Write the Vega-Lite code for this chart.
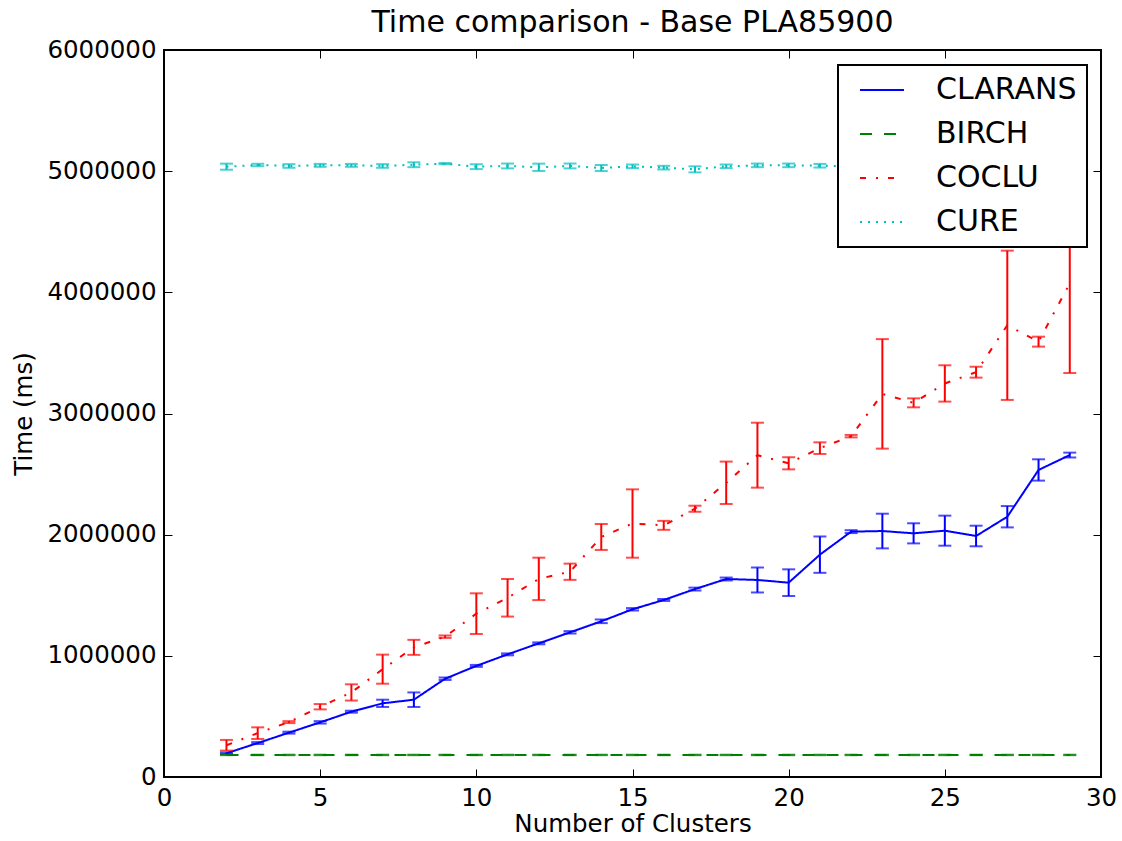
{
  "$schema": "https://vega.github.io/schema/vega-lite/v6.json",
  "width": 937,
  "height": 727,
  "autosize": {"type": "none"},
  "padding": {"left": 164, "top": 50, "right": 21, "bottom": 64},
  "background": "white",
  "config": {
    "font": "DejaVu Sans",
    "view": {"stroke": "black", "strokeWidth": 2}
  },
  "title": {
    "text": "Time comparison - Base PLA85900",
    "fontSize": 30,
    "fontWeight": "normal",
    "color": "black",
    "anchor": "middle",
    "offset": -1
  },
  "data": {
    "values": [
      {"algorithm": "CLARANS", "k": 2, "time": 196000, "lo": 190000, "hi": 202000},
      {"algorithm": "CLARANS", "k": 3, "time": 280000, "lo": 272000, "hi": 288000},
      {"algorithm": "CLARANS", "k": 4, "time": 366000, "lo": 358000, "hi": 374000},
      {"algorithm": "CLARANS", "k": 5, "time": 451000, "lo": 441000, "hi": 461000},
      {"algorithm": "CLARANS", "k": 6, "time": 539000, "lo": 531000, "hi": 547000},
      {"algorithm": "CLARANS", "k": 7, "time": 608000, "lo": 578000, "hi": 638000},
      {"algorithm": "CLARANS", "k": 8, "time": 638000, "lo": 578000, "hi": 698000},
      {"algorithm": "CLARANS", "k": 9, "time": 811000, "lo": 801000, "hi": 821000},
      {"algorithm": "CLARANS", "k": 10, "time": 917000, "lo": 909000, "hi": 925000},
      {"algorithm": "CLARANS", "k": 11, "time": 1012000, "lo": 1004000, "hi": 1020000},
      {"algorithm": "CLARANS", "k": 12, "time": 1103000, "lo": 1095000, "hi": 1111000},
      {"algorithm": "CLARANS", "k": 13, "time": 1194000, "lo": 1184000, "hi": 1204000},
      {"algorithm": "CLARANS", "k": 14, "time": 1285000, "lo": 1270000, "hi": 1300000},
      {"algorithm": "CLARANS", "k": 15, "time": 1384000, "lo": 1374000, "hi": 1394000},
      {"algorithm": "CLARANS", "k": 16, "time": 1461000, "lo": 1453000, "hi": 1469000},
      {"algorithm": "CLARANS", "k": 17, "time": 1551000, "lo": 1539000, "hi": 1563000},
      {"algorithm": "CLARANS", "k": 18, "time": 1634000, "lo": 1622000, "hi": 1646000},
      {"algorithm": "CLARANS", "k": 19, "time": 1626000, "lo": 1523000, "hi": 1729000},
      {"algorithm": "CLARANS", "k": 20, "time": 1604000, "lo": 1494000, "hi": 1714000},
      {"algorithm": "CLARANS", "k": 21, "time": 1835000, "lo": 1685000, "hi": 1985000},
      {"algorithm": "CLARANS", "k": 22, "time": 2025000, "lo": 2013000, "hi": 2037000},
      {"algorithm": "CLARANS", "k": 23, "time": 2030000, "lo": 1887000, "hi": 2173000},
      {"algorithm": "CLARANS", "k": 24, "time": 2011000, "lo": 1928000, "hi": 2094000},
      {"algorithm": "CLARANS", "k": 25, "time": 2033000, "lo": 1909000, "hi": 2157000},
      {"algorithm": "CLARANS", "k": 26, "time": 1989000, "lo": 1904000, "hi": 2074000},
      {"algorithm": "CLARANS", "k": 27, "time": 2148000, "lo": 2060000, "hi": 2236000},
      {"algorithm": "CLARANS", "k": 28, "time": 2534000, "lo": 2446000, "hi": 2622000},
      {"algorithm": "CLARANS", "k": 29, "time": 2657000, "lo": 2637000, "hi": 2677000},

      {"algorithm": "BIRCH", "k": 2, "time": 182000, "lo": 180000, "hi": 184000},
      {"algorithm": "BIRCH", "k": 3, "time": 182000, "lo": 180000, "hi": 184000},
      {"algorithm": "BIRCH", "k": 4, "time": 182000, "lo": 180000, "hi": 184000},
      {"algorithm": "BIRCH", "k": 5, "time": 182000, "lo": 180000, "hi": 184000},
      {"algorithm": "BIRCH", "k": 6, "time": 182000, "lo": 180000, "hi": 184000},
      {"algorithm": "BIRCH", "k": 7, "time": 182000, "lo": 180000, "hi": 184000},
      {"algorithm": "BIRCH", "k": 8, "time": 182000, "lo": 180000, "hi": 184000},
      {"algorithm": "BIRCH", "k": 9, "time": 182000, "lo": 180000, "hi": 184000},
      {"algorithm": "BIRCH", "k": 10, "time": 182000, "lo": 180000, "hi": 184000},
      {"algorithm": "BIRCH", "k": 11, "time": 182000, "lo": 180000, "hi": 184000},
      {"algorithm": "BIRCH", "k": 12, "time": 182000, "lo": 180000, "hi": 184000},
      {"algorithm": "BIRCH", "k": 13, "time": 182000, "lo": 180000, "hi": 184000},
      {"algorithm": "BIRCH", "k": 14, "time": 182000, "lo": 180000, "hi": 184000},
      {"algorithm": "BIRCH", "k": 15, "time": 182000, "lo": 180000, "hi": 184000},
      {"algorithm": "BIRCH", "k": 16, "time": 182000, "lo": 180000, "hi": 184000},
      {"algorithm": "BIRCH", "k": 17, "time": 182000, "lo": 180000, "hi": 184000},
      {"algorithm": "BIRCH", "k": 18, "time": 182000, "lo": 180000, "hi": 184000},
      {"algorithm": "BIRCH", "k": 19, "time": 182000, "lo": 180000, "hi": 184000},
      {"algorithm": "BIRCH", "k": 20, "time": 182000, "lo": 180000, "hi": 184000},
      {"algorithm": "BIRCH", "k": 21, "time": 182000, "lo": 180000, "hi": 184000},
      {"algorithm": "BIRCH", "k": 22, "time": 182000, "lo": 180000, "hi": 184000},
      {"algorithm": "BIRCH", "k": 23, "time": 182000, "lo": 180000, "hi": 184000},
      {"algorithm": "BIRCH", "k": 24, "time": 182000, "lo": 180000, "hi": 184000},
      {"algorithm": "BIRCH", "k": 25, "time": 182000, "lo": 180000, "hi": 184000},
      {"algorithm": "BIRCH", "k": 26, "time": 182000, "lo": 180000, "hi": 184000},
      {"algorithm": "BIRCH", "k": 27, "time": 182000, "lo": 180000, "hi": 184000},
      {"algorithm": "BIRCH", "k": 28, "time": 182000, "lo": 180000, "hi": 184000},
      {"algorithm": "BIRCH", "k": 29, "time": 182000, "lo": 180000, "hi": 184000},

      {"algorithm": "COCLU", "k": 2, "time": 262000, "lo": 218000, "hi": 306000},
      {"algorithm": "COCLU", "k": 3, "time": 362000, "lo": 314000, "hi": 410000},
      {"algorithm": "COCLU", "k": 4, "time": 453000, "lo": 445000, "hi": 461000},
      {"algorithm": "COCLU", "k": 5, "time": 580000, "lo": 558000, "hi": 602000},
      {"algorithm": "COCLU", "k": 6, "time": 698000, "lo": 631000, "hi": 765000},
      {"algorithm": "COCLU", "k": 7, "time": 890000, "lo": 770000, "hi": 1010000},
      {"algorithm": "COCLU", "k": 8, "time": 1070000, "lo": 1008000, "hi": 1132000},
      {"algorithm": "COCLU", "k": 9, "time": 1158000, "lo": 1148000, "hi": 1168000},
      {"algorithm": "COCLU", "k": 10, "time": 1348000, "lo": 1180000, "hi": 1516000},
      {"algorithm": "COCLU", "k": 11, "time": 1479000, "lo": 1324000, "hi": 1634000},
      {"algorithm": "COCLU", "k": 12, "time": 1635000, "lo": 1460000, "hi": 1810000},
      {"algorithm": "COCLU", "k": 13, "time": 1694000, "lo": 1627000, "hi": 1761000},
      {"algorithm": "COCLU", "k": 14, "time": 1981000, "lo": 1874000, "hi": 2088000},
      {"algorithm": "COCLU", "k": 15, "time": 2092000, "lo": 1810000, "hi": 2374000},
      {"algorithm": "COCLU", "k": 16, "time": 2077000, "lo": 2040000, "hi": 2114000},
      {"algorithm": "COCLU", "k": 17, "time": 2214000, "lo": 2189000, "hi": 2239000},
      {"algorithm": "COCLU", "k": 18, "time": 2428000, "lo": 2253000, "hi": 2603000},
      {"algorithm": "COCLU", "k": 19, "time": 2656000, "lo": 2388000, "hi": 2924000},
      {"algorithm": "COCLU", "k": 20, "time": 2589000, "lo": 2539000, "hi": 2639000},
      {"algorithm": "COCLU", "k": 21, "time": 2714000, "lo": 2666000, "hi": 2762000},
      {"algorithm": "COCLU", "k": 22, "time": 2813000, "lo": 2803000, "hi": 2823000},
      {"algorithm": "COCLU", "k": 23, "time": 3162000, "lo": 2710000, "hi": 3614000},
      {"algorithm": "COCLU", "k": 24, "time": 3088000, "lo": 3051000, "hi": 3125000},
      {"algorithm": "COCLU", "k": 25, "time": 3248000, "lo": 3098000, "hi": 3398000},
      {"algorithm": "COCLU", "k": 26, "time": 3341000, "lo": 3296000, "hi": 3386000},
      {"algorithm": "COCLU", "k": 27, "time": 3728000, "lo": 3112000, "hi": 4344000},
      {"algorithm": "COCLU", "k": 28, "time": 3593000, "lo": 3552000, "hi": 3634000},
      {"algorithm": "COCLU", "k": 29, "time": 4074000, "lo": 3334000, "hi": 4814000},

      {"algorithm": "CURE", "k": 2, "time": 5037000, "lo": 5012000, "hi": 5062000},
      {"algorithm": "CURE", "k": 3, "time": 5051000, "lo": 5041000, "hi": 5061000},
      {"algorithm": "CURE", "k": 4, "time": 5043000, "lo": 5028000, "hi": 5058000},
      {"algorithm": "CURE", "k": 5, "time": 5048000, "lo": 5036000, "hi": 5060000},
      {"algorithm": "CURE", "k": 6, "time": 5048000, "lo": 5036000, "hi": 5060000},
      {"algorithm": "CURE", "k": 7, "time": 5043000, "lo": 5028000, "hi": 5058000},
      {"algorithm": "CURE", "k": 8, "time": 5053000, "lo": 5033000, "hi": 5073000},
      {"algorithm": "CURE", "k": 9, "time": 5062000, "lo": 5057000, "hi": 5067000},
      {"algorithm": "CURE", "k": 10, "time": 5037000, "lo": 5017000, "hi": 5057000},
      {"algorithm": "CURE", "k": 11, "time": 5043000, "lo": 5023000, "hi": 5063000},
      {"algorithm": "CURE", "k": 12, "time": 5032000, "lo": 5002000, "hi": 5062000},
      {"algorithm": "CURE", "k": 13, "time": 5043000, "lo": 5023000, "hi": 5063000},
      {"algorithm": "CURE", "k": 14, "time": 5026000, "lo": 5001000, "hi": 5051000},
      {"algorithm": "CURE", "k": 15, "time": 5040000, "lo": 5025000, "hi": 5055000},
      {"algorithm": "CURE", "k": 16, "time": 5029000, "lo": 5014000, "hi": 5044000},
      {"algorithm": "CURE", "k": 17, "time": 5015000, "lo": 4990000, "hi": 5040000},
      {"algorithm": "CURE", "k": 18, "time": 5040000, "lo": 5025000, "hi": 5055000},
      {"algorithm": "CURE", "k": 19, "time": 5048000, "lo": 5033000, "hi": 5063000},
      {"algorithm": "CURE", "k": 20, "time": 5048000, "lo": 5033000, "hi": 5063000},
      {"algorithm": "CURE", "k": 21, "time": 5045000, "lo": 5030000, "hi": 5060000},
      {"algorithm": "CURE", "k": 22, "time": 5042000, "lo": 5027000, "hi": 5057000},
      {"algorithm": "CURE", "k": 23, "time": 5046000, "lo": 5031000, "hi": 5061000},
      {"algorithm": "CURE", "k": 24, "time": 5040000, "lo": 5025000, "hi": 5055000},
      {"algorithm": "CURE", "k": 25, "time": 5044000, "lo": 5029000, "hi": 5059000},
      {"algorithm": "CURE", "k": 26, "time": 5038000, "lo": 5023000, "hi": 5053000},
      {"algorithm": "CURE", "k": 27, "time": 5047000, "lo": 5032000, "hi": 5062000},
      {"algorithm": "CURE", "k": 28, "time": 5041000, "lo": 5026000, "hi": 5056000},
      {"algorithm": "CURE", "k": 29, "time": 5045000, "lo": 5030000, "hi": 5060000}
    ]
  },
  "resolve": {"axis": {"x": "independent", "y": "independent"}},
  "layer": [
    {
      "mark": {"type": "line", "strokeWidth": 2, "clip": true},
      "encoding": {
        "x": {
          "field": "k", "type": "quantitative",
          "scale": {"domain": [0, 30], "nice": false, "zero": false},
          "axis": {
            "orient": "bottom", "values": [0, 5, 10, 15, 20, 25, 30], "format": "d",
            "tickSize": -8, "tickColor": "black", "tickWidth": 1, "domain": false, "grid": false,
            "labelPadding": 17, "labelFontSize": 24.5, "labelColor": "black", "labelFlush": false, "labelOverlap": false,
            "title": "Number of Clusters", "titleFontSize": 24.5, "titleFontWeight": "normal", "titleColor": "black", "titlePadding": 3
          }
        },
        "y": {
          "field": "time", "type": "quantitative",
          "scale": {"domain": [0, 6000000], "nice": false, "zero": false},
          "axis": {
            "orient": "left", "values": [0, 1000000, 2000000, 3000000, 4000000, 5000000, 6000000], "format": "d",
            "tickSize": -8, "tickColor": "black", "tickWidth": 1, "domain": false, "grid": false,
            "labelPadding": 16, "labelFontSize": 24.5, "labelColor": "black", "labelFlush": false, "labelOverlap": false,
            "title": "Time (ms)", "titleFontSize": 24.5, "titleFontWeight": "normal", "titleColor": "black", "titlePadding": 10
          }
        },
        "color": {
          "field": "algorithm", "type": "nominal",
          "scale": {"domain": ["CLARANS", "BIRCH", "COCLU", "CURE"], "range": ["#0000ff", "#008000", "#ff0000", "#00bfbf"]},
          "legend": {
            "orient": "none", "legendX": 674, "legendY": 15, "title": null,
            "fillColor": "white", "strokeColor": "black", "padding": 10, "cornerRadius": 0,
            "symbolType": "stroke", "symbolSize": 1936, "symbolStrokeWidth": 2, "symbolOffset": 11,
            "labelFontSize": 30, "labelOffset": 31, "labelColor": "black", "rowPadding": 14, "clipHeight": 30,
            "encode": {"legend": {"update": {"strokeWidth": {"value": 2}}}}
          }
        },
        "strokeDash": {
          "field": "algorithm", "type": "nominal",
          "scale": {"domain": ["CLARANS", "BIRCH", "COCLU", "CURE"], "range": [[1, 0], [12, 12], [6, 10, 2, 10], [2, 6]]},
          "legend": {
            "orient": "none", "legendX": 674, "legendY": 15, "title": null,
            "fillColor": "white", "strokeColor": "black", "padding": 10, "cornerRadius": 0,
            "symbolType": "stroke", "symbolSize": 1936, "symbolStrokeWidth": 2, "symbolOffset": 11,
            "labelFontSize": 30, "labelOffset": 31, "labelColor": "black", "rowPadding": 14, "clipHeight": 30,
            "encode": {"legend": {"update": {"strokeWidth": {"value": 2}}}}
          }
        }
      }
    },
    {
      "mark": {"type": "rule", "strokeWidth": 2},
      "encoding": {
        "x": {
          "field": "k", "type": "quantitative",
          "axis": {
            "orient": "top", "values": [0, 5, 10, 15, 20, 25, 30], "labels": false,
            "tickSize": -8, "tickColor": "black", "tickWidth": 1, "domain": false, "grid": false, "title": null
          }
        },
        "y": {
          "field": "lo", "type": "quantitative",
          "axis": {
            "orient": "right", "values": [0, 1000000, 2000000, 3000000, 4000000, 5000000, 6000000], "labels": false,
            "tickSize": -8, "tickColor": "black", "tickWidth": 1, "domain": false, "grid": false, "title": null
          }
        },
        "y2": {"field": "hi"},
        "color": {"field": "algorithm", "type": "nominal", "legend": null}
      }
    },
    {
      "mark": {"type": "tick", "orient": "horizontal", "size": 13, "thickness": 2},
      "encoding": {
        "x": {"field": "k", "type": "quantitative", "axis": null},
        "y": {"field": "lo", "type": "quantitative", "axis": null},
        "color": {"field": "algorithm", "type": "nominal", "legend": null}
      }
    },
    {
      "mark": {"type": "tick", "orient": "horizontal", "size": 13, "thickness": 2},
      "encoding": {
        "x": {"field": "k", "type": "quantitative", "axis": null},
        "y": {"field": "hi", "type": "quantitative", "axis": null},
        "color": {"field": "algorithm", "type": "nominal", "legend": null}
      }
    }
  ]
}
